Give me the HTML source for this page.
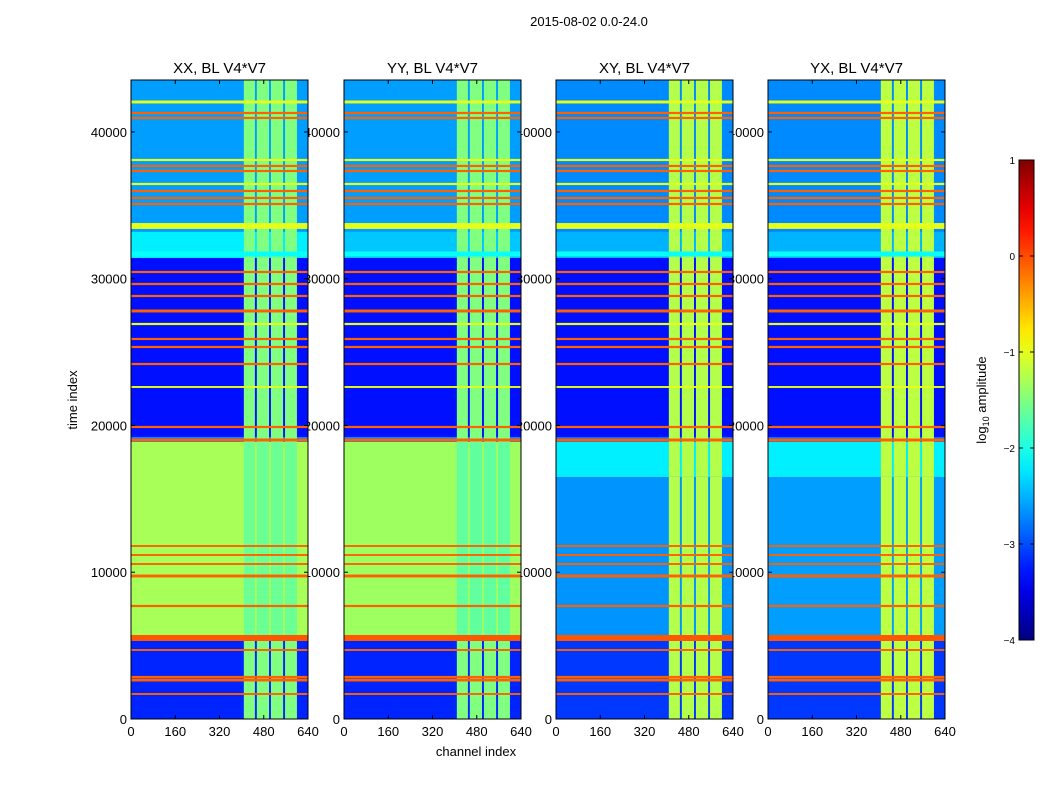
<!DOCTYPE html>
<html><head><meta charset="utf-8"><style>
body{margin:0;background:#fff;}
svg text{font-family:"Liberation Sans",sans-serif;}
</style></head><body>
<svg id="fig" width="1050" height="800" viewBox="0 0 1050 800" xmlns="http://www.w3.org/2000/svg">
<text x="589" y="26" font-size="13" text-anchor="middle">2015-08-02 0.0-24.0</text>
<text x="77" y="400" font-size="13" text-anchor="middle" transform="rotate(-90 77 400)">time index</text>
<text x="476" y="756" font-size="13" text-anchor="middle">channel index</text>
<g id="labels"></g>
<g id="panels"></g>
<g id="cbar"></g>
</svg>
<script>
const panelTitles = ["XX, BL V4*V7","YY, BL V4*V7","XY, BL V4*V7","YX, BL V4*V7"];
const xTicks = [0,160,320,480,640];
const yTicks = [0,10000,20000,30000,40000];
const cbTicks = [1,0,-1,-2,-3,-4];
const tMax = 43540, chMax = 640;
// background regions [tStart, tEnd, log10 amplitude] per panel
const bgXX = [[33184,43540,-2.6],[31413,33184,-2.2],[19215,31413,-3.3],[18875,19215,-2.7],[5656,18875,-1.3],[0,5656,-3.2]];
const bgYY = [[33184,43540,-2.6],[31413,33184,-2.4],[19215,31413,-3.3],[18875,19215,-2.7],[5656,18875,-1.35],[0,5656,-3.2]];
const bgXY = [[33184,43540,-2.7],[31413,33184,-2.5],[19215,31413,-3.3],[18875,19215,-2.8],[16500,18875,-2.2],[5656,16500,-2.65],[0,5656,-3.1]];
const bgYX = [[33184,43540,-2.7],[31413,33184,-2.5],[19215,31413,-3.3],[18875,19215,-2.8],[16500,18875,-2.2],[5656,16500,-2.6],[0,5656,-3.1]];
// RFI channel columns [chStart, chEnd]
const colRanges = [[408,448],[455,499],[506,550],[557,600]];
const colLevel = [-1.5,-1.5,-1.25,-1.2];
// horizontal stripes [t, width in t, log10 amplitude]
const stripes = [
 [41293,150,-0.1],[40953,150,-0.1],[37682,150,-0.1],[37341,150,-0.1],[35978,150,-0.1],[35501,150,-0.1],[35092,150,-0.1],
 [30459,150,-0.1],[29641,150,-0.1],[28823,150,-0.1],[27801,200,-0.1],[25893,150,-0.1],[25348,150,-0.1],[24189,150,-0.1],
 [19897,150,-0.1],[19011,200,-0.1],[11788,130,-0.1],[11175,130,-0.1],[10562,130,-0.1],[9744,200,-0.1],[7700,150,-0.1],
 [5520,410,-0.05],[4702,130,-0.1],[2862,150,-0.1],[2658,200,-0.1],[1704,130,-0.1],
 [33593,400,-1.0],[42042,200,-1.0],[38090,150,-1.0],[36455,150,-1.0],[26915,150,-1.0],[22622,130,-1.0],
 [31685,340,-2.1]
];
const bgs = [bgXX,bgYY,bgXY,bgYX];
const panelX = [131,344,556,768], panelW = 177, yTop = 80, yBot = 719;
function jet(v){
  let x = (v+4)/5; x=Math.max(0,Math.min(1,x));
  const f=(a)=>Math.max(0,Math.min(1,1.5-Math.abs(4*x-a)));
  return `rgb(${Math.round(255*f(3))},${Math.round(255*f(2))},${Math.round(255*f(1))})`;
}
const NS="http://www.w3.org/2000/svg";
function mk(tag,attrs,parent){const e=document.createElementNS(NS,tag);for(const k in attrs)e.setAttribute(k,attrs[k]);parent.appendChild(e);return e;}
const yOf=t=>yBot-(t/tMax)*(yBot-yTop);
const labelsG=document.getElementById('labels'), panelsG=document.getElementById('panels');
panelX.forEach((px,i)=>{
  const sx=c=>px+c/chMax*panelW;
  yTicks.forEach(t=>{const e=mk('text',{x:px-4,y:yOf(t)+5,'font-size':13,'text-anchor':'end'},labelsG);e.textContent=t;
    
    });
  xTicks.forEach(c=>{const e=mk('text',{x:sx(c),y:yBot+17,'font-size':13,'text-anchor':'middle'},labelsG);e.textContent=c;
    
    });
  const tt=mk('text',{x:px+panelW/2,y:73,'font-size':15,'text-anchor':'middle'},labelsG);tt.textContent=panelTitles[i];
  
  
  const g=mk('g',{},panelsG);
  
  
  bgs[i].forEach(r=>{
    const y1=yOf(r[1]),y0=yOf(r[0]);
    const e=mk('rect',{x:px,y:y1,width:panelW,height:y0-y1,fill:jet(r[2])},g);
    
    
    colRanges.forEach(c=>{
      const v = r[2] > -1.6 ? r[2]-0.3 : Math.max(r[2]+0.25,colLevel[i]);
      const ce=mk('rect',{x:sx(c[0]),y:y1,width:sx(c[1])-sx(c[0]),height:y0-y1,fill:jet(v)},g);
      
      
    });
  });
  stripes.forEach(s=>{
    const y1=yOf(s[0]+s[1]/2),y0=yOf(s[0]-s[1]/2);
    const e=mk('rect',{x:px,y:y1,width:panelW,height:Math.max(1.5,y0-y1),fill:jet(s[2])},g);
    
    
  });
  const fr=mk('rect',{x:px,y:yTop,width:panelW,height:yBot-yTop,fill:'none',stroke:'#000','stroke-width':1},g);
  
  
  yTicks.forEach(t=>{mk('line',{x1:px,x2:px+4,y1:yOf(t),y2:yOf(t),stroke:'#000'},g);mk('line',{x1:px+panelW,x2:px+panelW-4,y1:yOf(t),y2:yOf(t),stroke:'#000'},g);});
  xTicks.forEach(c=>{mk('line',{x1:sx(c),x2:sx(c),y1:yBot,y2:yBot-4,stroke:'#000'},g);mk('line',{x1:sx(c),x2:sx(c),y1:yTop,y2:yTop+4,stroke:'#000'},g);});
});
const cb=document.getElementById('cbar');
const cbX=1019,cbW=15,cbT=160,cbB=640;
const cy=v=>cbB-(v+4)/5*(cbB-cbT);
const defs=mk('defs',{},cb);const lg=mk('linearGradient',{id:'jetg',x1:0,y1:1,x2:0,y2:0},defs);
for(let k=0;k<=20;k++){mk('stop',{offset:k/20,'stop-color':jet(-4+k/4)},lg);}
const cr=mk('rect',{x:cbX,y:cbT,width:cbW,height:cbB-cbT,fill:'url(#jetg)',stroke:'#000'},cb);


cbTicks.forEach(v=>{mk('line',{x1:cbX,x2:cbX+4,y1:cy(v),y2:cy(v),stroke:'#000'},cb);mk('line',{x1:cbX+cbW,x2:cbX+cbW-4,y1:cy(v),y2:cy(v),stroke:'#000'},cb);
  const e=mk('text',{x:cbX-4,y:cy(v)+4,'font-size':10,'text-anchor':'end'},cb);e.textContent=v<0?'\u2212'+(-v):v;
  
  });
const cl=mk('text',{x:986,y:400,'font-size':13,'text-anchor':'middle',transform:'rotate(-90 986 400)'},cb);
cl.innerHTML='log<tspan font-size="9" dy="3">10</tspan><tspan dy="-3"> amplitude</tspan>';


</script>
</body></html>
